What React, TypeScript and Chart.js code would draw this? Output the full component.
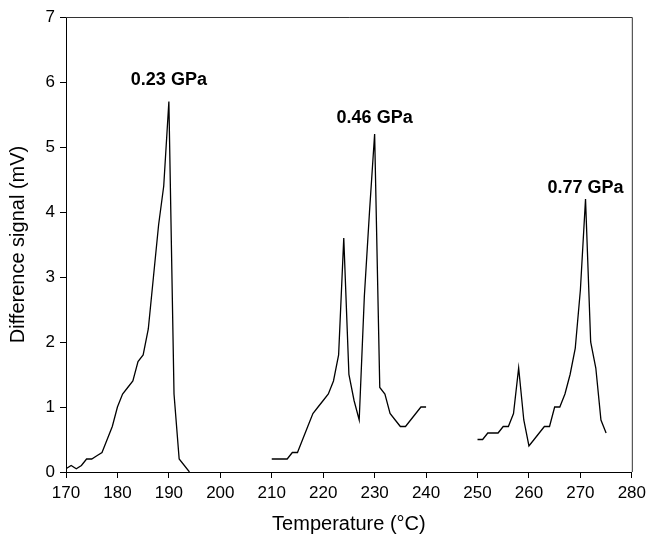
import React, { useEffect, useRef } from "react";
import { Chart, registerables } from "chart.js";

Chart.register(...registerables);

// 0.23 GPa
const tempA = [170, 171, 172, 173, 174, 175, 176, 177, 178, 179, 180, 181, 182, 183, 184, 185, 186, 187, 188, 189, 190, 191, 192, 194];
const signalA = [0.05, 0.1, 0.05, 0.1, 0.2, 0.2, 0.25, 0.3, 0.5, 0.7, 1.0, 1.2, 1.3, 1.4, 1.7, 1.8, 2.2, 3.0, 3.8, 4.4, 5.7, 1.2, 0.2, 0.0];

// 0.46 GPa
const tempB = [210, 211, 212, 213, 214, 215, 216, 217, 218, 219, 220, 221, 222, 223, 224, 225, 226, 227, 228, 229, 230, 231, 232, 233, 234, 235, 236, 237, 238, 239, 240];
const signalB = [0.2, 0.2, 0.2, 0.2, 0.3, 0.3, 0.5, 0.7, 0.9, 1.0, 1.1, 1.2, 1.4, 1.8, 3.6, 1.5, 1.1, 0.8, 2.7, 4.0, 5.2, 1.3, 1.2, 0.9, 0.8, 0.7, 0.7, 0.8, 0.9, 1.0, 1.0];

// 0.77 GPa
const tempC = [250, 251, 252, 253, 254, 255, 256, 257, 258, 259, 260, 261, 262, 263, 264, 265, 266, 267, 268, 269, 270, 271, 272, 273, 274, 275];
const signalC = [0.5, 0.5, 0.6, 0.6, 0.6, 0.7, 0.7, 0.9, 1.6, 0.8, 0.4, 0.5, 0.6, 0.7, 0.7, 1.0, 1.0, 1.2, 1.5, 1.9, 2.8, 4.2, 2.0, 1.6, 0.8, 0.6];

const seriesLabels = ["0.23 GPa", "0.46 GPa", "0.77 GPa"];
const labelTemps = [190, 230, 271];
const labelSignals = [6.03, 5.45, 4.37];

const xTicks = [170, 180, 190, 200, 210, 220, 230, 240, 250, 260, 270, 280];
const yTicks = [0, 1, 2, 3, 4, 5, 6, 7];

const FONT = "'Liberation Sans', Arial, Helvetica, sans-serif";

function toPoints(xs: number[], ys: number[]) {
  return xs.map((x, i) => ({ x, y: ys[i] }));
}

const framePlugin = {
  id: "frame",
  afterDraw(chart: any) {
    const { ctx, chartArea } = chart;
    ctx.save();
    ctx.strokeStyle = "#333";
    ctx.lineWidth = 1;
    ctx.beginPath();
    ctx.moveTo(chartArea.left, chartArea.top + 0.5);
    ctx.lineTo(chartArea.right + 0.5, chartArea.top + 0.5);
    ctx.lineTo(chartArea.right + 0.5, chartArea.bottom);
    ctx.stroke();
    // annotations
    const xs = chart.scales.x;
    const ys = chart.scales.y;
    ctx.fillStyle = "#000";
    ctx.font = `bold 18px ${FONT}`;
    ctx.textAlign = "center";
    ctx.textBaseline = "middle";
    seriesLabels.forEach((t, i) => {
      ctx.fillText(t, xs.getPixelForValue(labelTemps[i]), ys.getPixelForValue(labelSignals[i]));
    });
    ctx.restore();
  },
};

export default function App() {
  const ref = useRef<HTMLCanvasElement | null>(null);
  useEffect(() => {
    if (!ref.current) return;
    const mk = (xs: number[], ys: number[], label: string) => ({
      label,
      data: toPoints(xs, ys),
      borderColor: "#000",
      borderWidth: 1.3,
      pointRadius: 0,
      tension: 0,
      fill: false,
    });
    const chart = new Chart(ref.current, {
      type: "line",
      data: {
        datasets: [
          mk(tempA, signalA, seriesLabels[0]),
          mk(tempB, signalB, seriesLabels[1]),
          mk(tempC, signalC, seriesLabels[2]),
        ],
      },
      options: {
        animation: false,
        responsive: false,
        devicePixelRatio: 1,
        layout: { padding: { top: 17, right: 18, left: 0, bottom: 0 } },
        plugins: { legend: { display: false }, tooltip: { enabled: false } },
        scales: {
          x: {
            type: "linear",
            min: xTicks[0],
            max: xTicks[xTicks.length - 1],
            afterBuildTicks: (s: any) => {
              s.ticks = xTicks.map((v) => ({ value: v }));
            },
            afterFit: (s: any) => {
              s.height = 64;
            },
            ticks: {
              color: "#000",
              font: { family: FONT, size: 17 },
              padding: 5,
              maxRotation: 0,
              autoSkip: false,
            },
            grid: { drawOnChartArea: false, drawTicks: true, tickLength: 6, color: "#000" },
            border: { display: true, color: "#000", width: 1 },
            title: {
              display: true,
              text: "Temperature (°C)",
              color: "#000",
              font: { family: FONT, size: 20 },
              padding: { top: 0, bottom: 0 },
            },
          },
          y: {
            type: "linear",
            min: yTicks[0],
            max: yTicks[yTicks.length - 1],
            afterBuildTicks: (s: any) => {
              s.ticks = yTicks.map((v) => ({ value: v }));
            },
            afterFit: (s: any) => {
              s.width = 66;
            },
            ticks: {
              color: "#000",
              font: { family: FONT, size: 17 },
              padding: 5,
            },
            grid: { drawOnChartArea: false, drawTicks: true, tickLength: 6, color: "#000" },
            border: { display: true, color: "#000", width: 1 },
            title: {
              display: true,
              text: "Difference signal (mV)",
              color: "#000",
              font: { family: FONT, size: 20 },
              padding: { top: 6, bottom: 0 },
            },
          },
        },
      },
      plugins: [framePlugin],
    });
    return () => chart.destroy();
  }, []);
  return (
    <div style={{ position: "absolute", left: 0, top: 0, width: 651, height: 536, background: "#fff" }}>
      <canvas ref={ref} width={651} height={536} style={{ display: "block" }} />
    </div>
  );
}
